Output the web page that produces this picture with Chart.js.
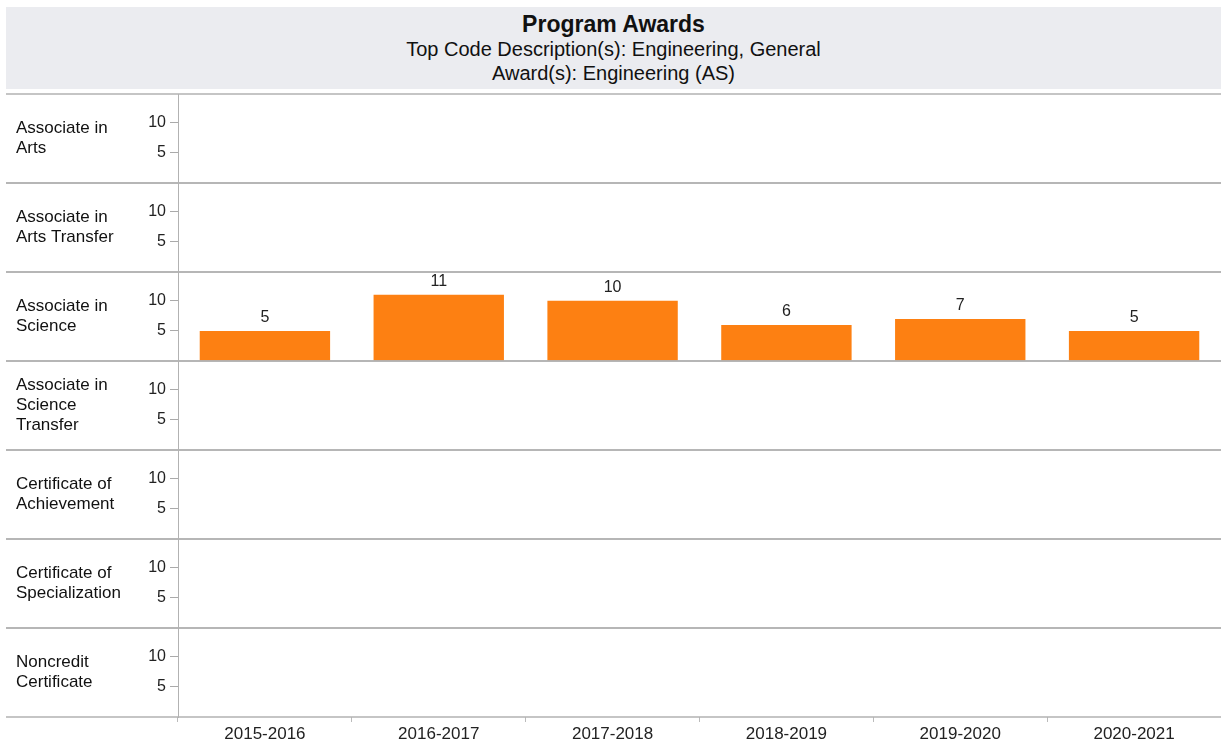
<!DOCTYPE html>
<html>
<head>
<meta charset="utf-8">
<script src="https://cdn.jsdelivr.net/npm/chart.js@4"></script>
<style>
  body { margin: 0; background: #fff; font-family: "Liberation Sans", Arial, sans-serif; overflow: hidden; }
  #header {
    position: absolute; left: 6px; top: 7px; width: 1215px; height: 82px;
    background: #ebecf0; text-align: center; color: #111;
  }
  #header .t1 { font-weight: bold; font-size: 23px; margin-top: 4px; line-height: 26px; }
  #header .t2 { font-size: 20px; line-height: 24px; }
  #wrap { position: absolute; left: 0; top: 90px; width: 1221px; height: 653px; }
</style>
</head>
<body>
<div id="header">
  <div class="t1">Program Awards</div>
  <div class="t2">Top Code Description(s): Engineering, General</div>
  <div class="t2">Award(s): Engineering (AS)</div>
</div>
<div id="wrap"><canvas id="chart"></canvas></div>
<script>
const years = ['2015-2016', '2016-2017', '2017-2018', '2018-2019', '2019-2020', '2020-2021'];
const awardTypes = [
  ['Associate in', 'Arts'],
  ['Associate in', 'Arts Transfer'],
  ['Associate in', 'Science'],
  ['Associate in', 'Science', 'Transfer'],
  ['Certificate of', 'Achievement'],
  ['Certificate of', 'Specialization'],
  ['Noncredit', 'Certificate']
];
const artsAA = [null, null, null, null, null, null];
const artsTransfer = [null, null, null, null, null, null];
const scienceAS = [5, 11, 10, 6, 7, 5];
const scienceTransfer = [null, null, null, null, null, null];
const certAchievement = [null, null, null, null, null, null];
const certSpecialization = [null, null, null, null, null, null];
const noncredit = [null, null, null, null, null, null];

const rowData = [artsAA, artsTransfer, scienceAS, scienceTransfer, certAchievement, certSpecialization, noncredit];
const barColor = '#fd8012';
const lineColor = '#b2b2b2';

const datasets = rowData.map((vals, i) => ({
    label: awardTypes[i].join(' '),
    data: vals,
    yAxisID: 'y' + i,
    backgroundColor: barColor,
    grouped: false,
    categoryPercentage: 1,
    barPercentage: 0.75
}));

const scales = {
    x: {
        type: 'category',
        position: 'bottom',
        border: { display: false },
        grid: { offset: true, drawOnChartArea: false, tickLength: 5, color: '#bbb' },
        ticks: { color: '#222', font: { size: 17, family: 'Liberation Sans' }, padding: 2, maxRotation: 0 },
        afterFit: scale => {
            scale.height = 26;
            scale.paddingLeft = 0;
            scale.paddingRight = 0;
        }
    }
};
// stacked layout places the boxes bottom-up, so add the rows in reverse
for (let i = rowData.length - 1; i >= 0; i--) {
    scales['y' + i] = {
        type: 'linear',
        position: 'left',
        stack: 'rows',
        stackWeight: 1,
        min: 0,
        max: 14.8,
        border: { display: true, color: lineColor },
        grid: { drawOnChartArea: false, tickLength: 8, color: '#aaa' },
        ticks: { color: '#222', font: { size: 16, family: 'Liberation Sans' }, padding: 4 },
        afterBuildTicks: axis => { axis.ticks = [{ value: 5 }, { value: 10 }]; },
        afterFit: scale => {
            scale.width = 178;
            scale.paddingTop = 0;
            scale.paddingBottom = 0;
        }
    };
}

// row labels, separator lines and bar value labels
const panelDecor = {
    id: 'panelDecor',
    afterDraw(chart) {
        const ctx = chart.ctx;
        const right = chart.width;
        ctx.save();
        ctx.strokeStyle = lineColor;
        ctx.lineWidth = 1.5;
        rowData.forEach((vals, i) => {
            const s = chart.scales['y' + i];
            [s.top, s.bottom].forEach(yy => {
                ctx.beginPath();
                ctx.moveTo(6, yy);
                ctx.lineTo(right, yy);
                ctx.stroke();
            });
            const lines = awardTypes[i];
            const mid = (s.top + s.bottom) / 2;
            ctx.fillStyle = '#111';
            ctx.font = '17px "Liberation Sans"';
            ctx.textAlign = 'left';
            ctx.textBaseline = 'middle';
            lines.forEach((ln, k) => {
                ctx.fillText(ln, 16, mid + (k - (lines.length - 1) / 2) * 20);
            });
        });
        ctx.font = '16px "Liberation Sans"';
        ctx.textAlign = 'center';
        ctx.textBaseline = 'bottom';
        ctx.fillStyle = '#222';
        chart.data.datasets.forEach((ds, di) => {
            chart.getDatasetMeta(di).data.forEach((bar, j) => {
                const v = ds.data[j];
                if (v == null) return;
                ctx.fillText(String(v), bar.x, bar.y - 5);
            });
        });
        ctx.restore();
    }
};

new Chart(document.getElementById('chart'), {
    type: 'bar',
    data: { labels: years, datasets: datasets },
    options: {
        responsive: true,
        maintainAspectRatio: false,
        animation: false,
        layout: { padding: { top: 4, left: 0, right: -3, bottom: 0 } },
        plugins: { legend: { display: false }, tooltip: { enabled: false } },
        scales: scales
    },
    plugins: [panelDecor]
});
</script>
</body>
</html>
